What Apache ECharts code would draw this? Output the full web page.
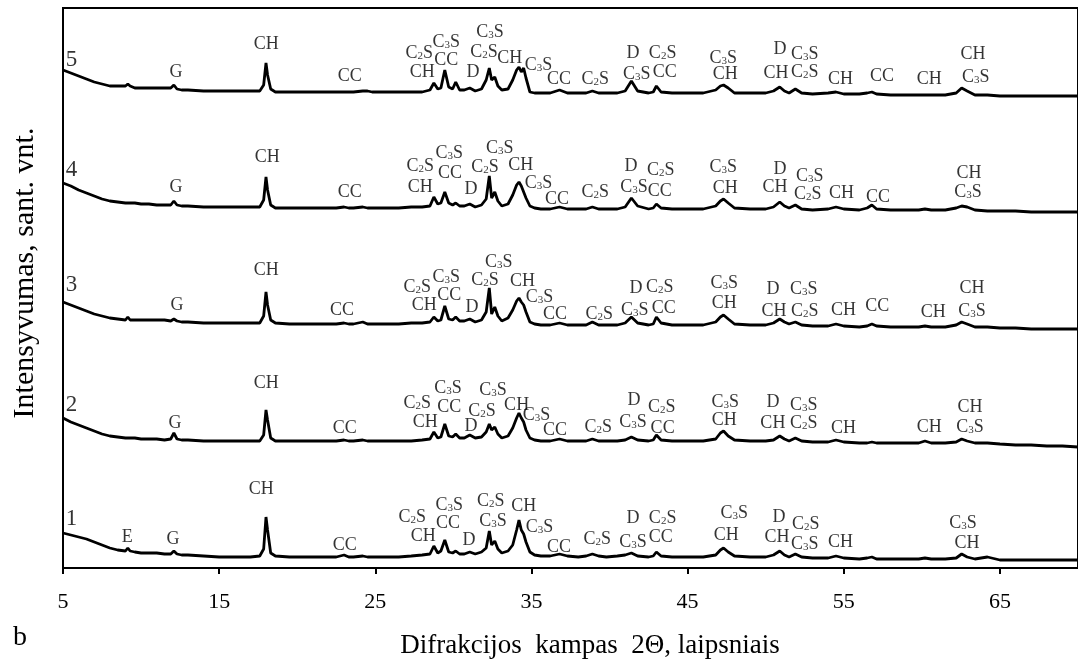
<!DOCTYPE html>
<html>
<head>
<meta charset="utf-8">
<script src="https://cdn.jsdelivr.net/npm/echarts@6/dist/echarts.min.js"></script>
<style>
html,body{margin:0;padding:0;background:#fff;}
#chart{width:1078px;height:664px;}
</style>
</head>
<body>
<div id="chart"></div>
<script>
// Diffraction angle 2θ (degrees)
const twoTheta = [
  5.0, 5.5, 6.0, 6.5, 7.0, 7.5, 8.0, 8.5, 9.0, 9.15,
  9.3, 9.6, 10.0, 10.5, 11.0, 11.5, 11.9, 12.1, 12.3, 12.6,
  13.0, 14.0, 15.0, 16.0, 17.0, 17.6, 17.85, 18.0, 18.1, 18.3,
  18.6, 19.5, 20.5, 21.5, 22.5, 23.0, 23.3, 23.6, 24.2, 24.5,
  24.8, 25.5, 26.5, 27.3, 28.0, 28.5, 28.75, 29.0, 29.2, 29.45,
  29.7, 29.95, 30.15, 30.4, 30.7, 31.05, 31.4, 31.8, 32.1, 32.3,
  32.45, 32.65, 32.85, 33.1, 33.5, 33.8, 34.05, 34.2, 34.35, 34.5,
  34.65, 34.9, 35.2, 35.6, 36.2, 36.8, 37.3, 38.0, 38.5, 38.9,
  39.3, 39.8, 40.5, 41.0, 41.4, 41.8, 42.5, 42.8, 43.0, 43.3,
  44.0, 45.0, 46.0, 46.8, 47.1, 47.3, 47.6, 48.0, 49.0, 50.0,
  50.5, 50.9, 51.2, 51.5, 51.9, 52.3, 53.0, 54.0, 54.5, 55.0,
  56.0, 56.5, 56.8, 57.1, 58.0, 59.0, 59.8, 60.2, 60.6, 61.5,
  62.2, 62.55, 62.9, 63.4, 64.2, 65.0, 66.0, 67.0, 68.0, 69.0,
  70.0
];

// Intensity (arbitrary units, patterns stacked with offsets)
const pattern1 = [
  35,33,31,29,26,23,20,18,17,20,
  17,16,15,15,15,14,14,17,14,13,
  13,12,11,11,11,12,19,51,38,15,
  12,11,11,11,11,13,11,11,12,11,
  11,11,11,12,13,14,22,15,17,28,
  16,15,17,14,14,16,14,16,20,37,
  23,27,19,15,17,23,38,48,38,34,
  26,16,13,12,12,14,12,11,12,14,
  12,11,12,13,15,12,11,12,16,12,
  11,11,11,13,18,20,16,12,11,11,
  13,17,13,11,14,11,10,10,12,10,
  9,10,11,9,9,9,9,10,9,9,
  10,14,11,9,11,8,8,8,8,8,
  8
];
const pattern2 = [
  150,146,143,140,137,134,132,131,130,130,
  130,130,129,129,129,128,129,135,129,128,
  128,127,127,127,127,127,133,158,148,130,
  127,127,127,127,127,128,127,127,128,127,
  127,127,127,127,128,129,136,130,131,144,
  132,131,134,130,130,133,130,131,136,144,
  138,141,134,130,132,140,150,155,150,146,
  138,130,128,127,127,129,127,127,127,129,
  127,127,127,128,131,128,127,128,133,128,
  127,127,127,129,135,137,132,128,127,127,
  128,132,129,127,130,127,126,126,128,126,
  125,125,126,125,125,125,125,127,125,125,
  126,129,127,125,125,124,123,123,122,122,
  121
];
const pattern3 = [
  266,263,260,257,254,252,250,249,248,251,
  248,248,248,248,248,248,247,249,247,246,
  246,245,245,245,245,245,252,276,263,248,
  245,244,244,244,244,245,244,244,246,244,
  244,244,244,245,245,246,251,247,248,262,
  249,248,251,247,247,249,246,248,256,280,
  254,261,252,247,250,258,267,270,266,263,
  256,246,244,243,243,245,243,243,243,246,
  243,243,243,245,251,245,243,244,251,245,
  243,243,243,246,251,253,249,244,243,243,
  245,249,246,244,246,243,242,242,244,242,
  241,242,244,242,241,241,241,242,241,241,
  243,246,244,241,241,240,240,239,239,239,
  239
];
const pattern4 = [
  385,382,378,375,372,369,367,366,365,365,
  365,365,364,364,363,363,363,367,363,362,
  362,361,361,361,361,361,368,391,378,363,
  360,360,360,360,360,361,360,360,361,360,
  360,360,360,361,361,362,371,364,365,376,
  365,363,365,362,362,364,361,363,369,392,
  370,376,367,362,364,373,383,386,382,376,
  370,362,360,359,359,361,359,359,359,361,
  359,359,359,361,370,362,359,360,364,360,
  359,359,359,362,367,369,365,360,359,359,
  361,366,362,360,363,359,358,359,361,359,
  358,360,363,359,358,358,358,359,358,358,
  360,362,361,358,357,357,357,356,356,356,
  356
];
const pattern5 = [
  498,495,492,489,486,484,482,482,482,484,
  482,480,480,480,480,480,480,483,479,478,
  478,477,477,477,477,477,483,505,493,479,
  476,476,476,476,476,476,476,476,477,477,
  476,476,476,476,476,478,485,479,480,498,
  481,479,486,478,478,480,477,479,488,500,
  488,491,482,478,479,488,498,501,496,500,
  490,476,475,475,475,478,475,475,475,477,
  475,475,475,477,487,477,475,476,482,476,
  475,475,475,478,482,483,480,475,475,475,
  477,481,477,475,479,475,474,475,476,474,
  474,475,476,474,473,473,473,473,473,473,
  475,480,477,473,473,472,472,472,472,472,
  472
];

// Phase labels: [2θ, intensity level, text]
const phases5 = [
  [12.23,496,'G'],[18.02,524,'CH'],[23.37,492,'CC'],
  [27.82,515,'C2S'],[28.01,496,'CH'],[29.54,526,'C3S'],[29.54,508,'CC'],[31.25,496,'D'],
  [32.34,536,'C3S'],[31.96,516,'C2S'],[33.61,510,'CH'],[35.45,503,'C3S'],[36.77,489,'CC'],
  [39.08,489,'C2S'],[41.50,515,'D'],[41.75,494,'C3S'],[43.40,515,'C2S'],[43.53,496,'CC'],
  [47.28,510,'C3S'],[47.41,494,'CH'],[50.91,519,'D'],[50.66,495,'CH'],[52.50,514,'C3S'],
  [52.50,496,'C2S'],[54.79,489,'CH'],[57.45,492,'CC'],[60.47,489,'CH'],[63.27,514,'CH'],[63.46,491,'C3S']
];
const phases4 = [
  [12.23,381,'G'],[18.08,411,'CH'],[23.37,376,'CC'],
  [27.88,402,'C2S'],[27.88,381,'CH'],[29.73,415,'C3S'],[29.79,395,'CC'],[31.13,379,'D'],
  [32.97,420,'C3S'],[32.02,401,'C2S'],[34.31,403,'CH'],[35.45,385,'C3S'],[36.64,369,'CC'],
  [39.08,376,'C2S'],[41.37,402,'D'],[41.56,381,'C3S'],[43.28,398,'C2S'],[43.21,377,'CC'],
  [47.28,401,'C3S'],[47.41,380,'CH'],[50.91,399,'D'],[50.59,381,'CH'],[52.82,392,'C3S'],
  [52.69,374,'C2S'],[54.85,375,'CH'],[57.20,371,'CC'],[63.02,395,'CH'],[62.95,376,'C3S']
];
const phases3 = [
  [12.30,263,'G'],[18.02,298,'CH'],[22.86,258,'CC'],
  [27.69,281,'C2S'],[28.14,263,'CH'],[29.54,291,'C3S'],[29.73,273,'CC'],[31.19,261,'D'],
  [32.91,306,'C3S'],[32.02,288,'C2S'],[34.43,287,'CH'],[35.52,271,'C3S'],[36.51,254,'CC'],
  [39.34,254,'C2S'],[41.69,280,'D'],[41.62,258,'C3S'],[43.21,281,'C2S'],[43.47,260,'CC'],
  [47.35,285,'C3S'],[47.35,265,'CH'],[50.46,279,'D'],[50.53,257,'CH'],[52.44,279,'C3S'],
  [52.50,257,'C2S'],[54.98,258,'CH'],[57.14,262,'CC'],[60.73,256,'CH'],[63.21,280,'CH'],[63.21,257,'C3S']
];
const phases2 = [
  [12.17,145,'G'],[18.02,185,'CH'],[23.05,140,'CC'],
  [27.69,165,'C2S'],[28.20,146,'CH'],[29.66,180,'C3S'],[29.73,161,'CC'],[31.13,142,'D'],
  [32.53,178,'C3S'],[31.83,157,'C2S'],[34.05,163,'CH'],[35.32,153,'C3S'],[36.51,138,'CC'],
  [39.27,141,'C2S'],[41.56,168,'D'],[41.50,146,'C3S'],[43.34,161,'C2S'],[43.40,140,'CC'],
  [47.41,166,'C3S'],[47.35,148,'CH'],[50.46,166,'D'],[50.46,145,'CH'],[52.44,163,'C3S'],
  [52.44,145,'C2S'],[54.98,140,'CH'],[60.47,141,'CH'],[63.08,161,'CH'],[63.08,141,'C3S']
];
const phases1 = [
  [9.12,31,'E'],[12.04,29,'G'],[17.70,79,'CH'],[23.05,23,'CC'],
  [27.37,51,'C2S'],[28.07,32,'CH'],[29.73,63,'C3S'],[29.66,45,'CC'],[31.00,28,'D'],
  [32.40,67,'C2S'],[32.53,47,'C3S'],[34.50,62,'CH'],[35.52,41,'C3S'],[36.77,21,'CC'],
  [39.21,29,'C2S'],[41.50,50,'D'],[41.50,26,'C3S'],[43.40,50,'C2S'],[43.28,31,'CC'],
  [47.98,55,'C3S'],[47.47,33,'CH'],[50.85,51,'D'],[50.72,31,'CH'],[52.57,44,'C2S'],
  [52.50,24,'C3S'],[54.79,26,'CH'],[62.63,45,'C3S'],[62.89,25,'CH']
];
// Sample numbers: [2θ, intensity level, text]
const sampleIds = [[5.55,49,'1'],[5.55,163,'2'],[5.55,283,'3'],[5.55,398,'4'],[5.55,508,'5']];
const xTicks = [5, 15, 25, 35, 45, 55, 65];

const FONT = '"Liberation Serif","Times New Roman",serif';
const chart = echarts.init(document.getElementById('chart'), null, {renderer: 'canvas'});

const patterns = [pattern1, pattern2, pattern3, pattern4, pattern5];
const lineSeries = patterns.map((p, k) => ({
  type: 'line',
  name: 'pattern' + (k + 1),
  data: twoTheta.map((a, i) => [a, p[i]]),
  showSymbol: false,
  symbol: 'none',
  smooth: false,
  lineStyle: {color: '#000', width: 2.8},
  z: 2
}));

const allPhases = [].concat(phases1, phases2, phases3, phases4, phases5);
function fmt(t) { return t.replace(/C(\d)S/g, 'C{s|$1}S'); }

const option = {
  animation: false,
  backgroundColor: '#fff',
  grid: {left: 63, top: 8, right: -7, bottom: 96, show: true, borderColor: '#000', borderWidth: 2},
  xAxis: {
    type: 'value', min: 5, max: 70,
    axisLine: {show: true, onZero: false, lineStyle: {color: '#000', width: 2}},
    axisTick: {show: true, inside: false, length: 6, lineStyle: {color: '#000', width: 2}, customValues: xTicks},
    axisLabel: {show: true, customValues: xTicks, margin: 23, color: '#000', fontFamily: FONT, fontSize: 22},
    splitLine: {show: false}
  },
  yAxis: {
    type: 'value', min: 0, max: 560,
    axisLine: {show: true, lineStyle: {color: '#000', width: 2}},
    axisTick: {show: false}, axisLabel: {show: false}, splitLine: {show: false}
  },
  series: lineSeries.concat([
    {
      type: 'scatter', name: 'phases',
      data: allPhases.map(d => [d[0], d[1], d[2]]),
      symbolSize: 1, itemStyle: {color: 'rgba(0,0,0,0)'},
      z: 5,
      label: {
        show: true, position: 'inside', color: '#000',
        fontFamily: FONT, fontSize: 18,
        formatter: p => fmt(p.value[2]),
        rich: {s: {fontFamily: FONT, fontSize: 11, color: '#000', verticalAlign: 'bottom', lineHeight: 14}}
      }
    },
    {
      type: 'scatter', name: 'samples',
      data: sampleIds.map(d => [d[0], d[1], d[2]]),
      symbolSize: 1, itemStyle: {color: 'rgba(0,0,0,0)'},
      z: 5,
      label: {show: true, position: 'inside', color: '#000', fontFamily: FONT, fontSize: 23, formatter: p => p.value[2]}
    }
  ]),
  graphic: [
    {type: 'text', x: 590, y: 646, style: {text: 'Difrakcijos  kampas  2Θ, laipsniais', font: '27px ' + FONT, fill: '#000', align: 'center', verticalAlign: 'middle'}},
    {type: 'text', x: 25, y: 273, rotation: Math.PI / 2, style: {text: 'Intensyvumas, sant. vnt.', font: '30px ' + FONT, fill: '#000', align: 'center', verticalAlign: 'middle'}},
    {type: 'text', x: 20, y: 638, style: {text: 'b', font: '28px ' + FONT, fill: '#000', align: 'center', verticalAlign: 'middle'}}
  ]
};
chart.setOption(option);
</script>
</body>
</html>
